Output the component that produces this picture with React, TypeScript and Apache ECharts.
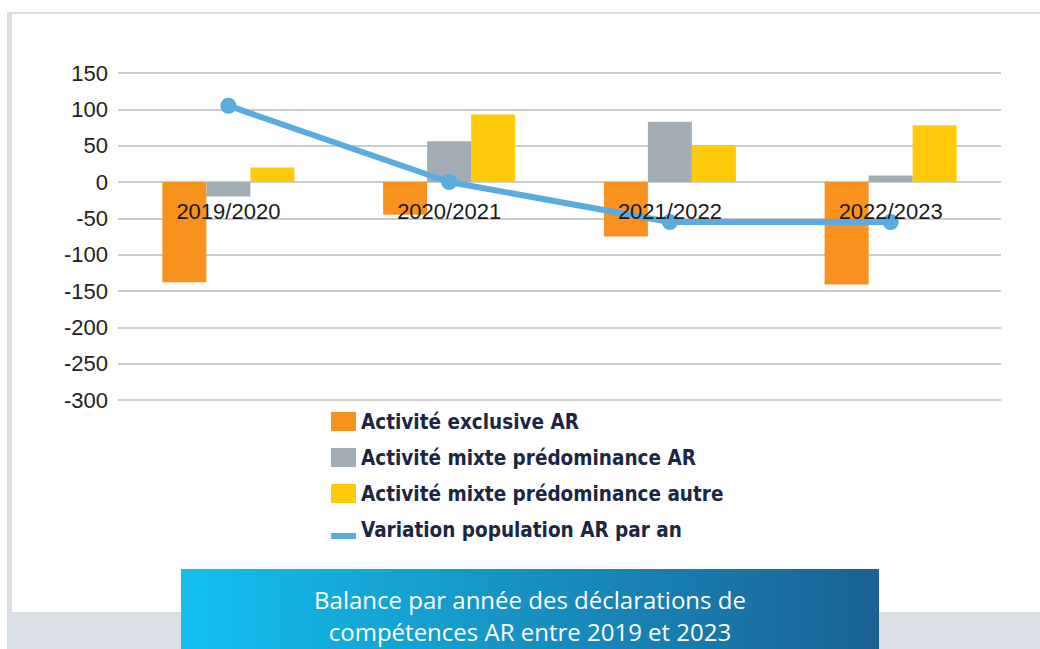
import React, { useEffect, useRef } from "react";
import * as echarts from "echarts";

const categories = ["2019/2020", "2020/2021", "2021/2022", "2022/2023"];
const exclusiveAR = [-138, -45, -75, -141];
const mixteAR = [-20, 56, 83, 9];
const mixteAutre = [20, 93, 51, 78];
const variation = [105, 0, -55, -55];

const seriesNames = [
  "Activité exclusive AR",
  "Activité mixte prédominance AR",
  "Activité mixte prédominance autre",
  "Variation population AR par an",
];
const yMin = -300;
const yMax = 150;
const yStep = 50;
const titleLines = [
  "Balance par année des déclarations de",
  "compétences AR entre 2019 et 2023",
];

const NARROW = "'Liberation Sans Narrow', 'DejaVu Sans Condensed', 'Liberation Sans', sans-serif";
const SANS = "'Liberation Sans', Arial, sans-serif";

const GRID_TOP = 73;
const GRID_BOTTOM_Y = 400;

export default function App() {
  const ref = useRef<HTMLDivElement>(null);
  useEffect(() => {
    document.body.style.margin = "0";
    const chart = echarts.init(ref.current!, null, { renderer: "svg" });
    const zeroY = GRID_TOP + ((yMax - 0) / (yMax - yMin)) * (GRID_BOTTOM_Y - GRID_TOP);
    chart.setOption({
      animation: false,
      backgroundColor: "#ffffff",
      grid: { left: 118, right: 39, top: GRID_TOP, bottom: 649 - GRID_BOTTOM_Y, containLabel: false },
      legend: {
        orient: "vertical",
        left: 331,
        top: 411,
        padding: 0,
        itemWidth: 25,
        itemHeight: 19,
        itemGap: 15,
        selectedMode: false,
        itemStyle: { borderWidth: 0 },
        textStyle: {
          fontFamily: NARROW,
          fontWeight: "bold",
          fontSize: 20.5,
          color: "#1b2742",
        },
        data: [
          { name: seriesNames[0], icon: "rect" },
          { name: seriesNames[1], icon: "rect" },
          { name: seriesNames[2], icon: "rect" },
          { name: seriesNames[3], icon: "path://M0,0L0,0M0,13L25,13L25,19L0,19Z" },
        ],
      },
      xAxis: {
        type: "category",
        data: categories,
        z: 10,
        position: "bottom",
        offset: -(GRID_BOTTOM_Y - zeroY),
        axisLine: { show: false, onZero: false },
        axisTick: { show: false },
        axisLabel: {
          margin: 18,
          fontFamily: SANS,
          fontSize: 22,
          color: "#1a1a1a",
        },
      },
      yAxis: {
        type: "value",
        min: yMin,
        max: yMax,
        interval: yStep,
        axisLine: { show: false },
        axisTick: { show: false },
        splitLine: { lineStyle: { color: "#cccccc", width: 2 } },
        axisLabel: {
          margin: 10,
          fontFamily: SANS,
          fontSize: 22,
          color: "#222222",
        },
      },
      series: [
        {
          name: seriesNames[0],
          type: "bar",
          data: exclusiveAR,
          barWidth: 44,
          barGap: "0%",
          itemStyle: { color: "#f7921e" },
        },
        {
          name: seriesNames[1],
          type: "bar",
          data: mixteAR,
          barWidth: 44,
          barGap: "0%",
          itemStyle: { color: "#a2adb3" },
        },
        {
          name: seriesNames[2],
          type: "bar",
          data: mixteAutre,
          barWidth: 44,
          barGap: "0%",
          itemStyle: { color: "#ffcb08" },
        },
        {
          name: seriesNames[3],
          type: "line",
          data: variation,
          z: 4,
          symbol: "circle",
          symbolSize: 16,
          lineStyle: { color: "#5aabe0", width: 6 },
          itemStyle: { color: "#5aabe0", borderWidth: 0 },
        },
      ],
      graphic: [
        { type: "rect", z: -10, silent: true, shape: { x: 7, y: 12, width: 1033, height: 637 }, style: { fill: "#dadfe5" } },
        { type: "rect", z: -9, silent: true, shape: { x: 12, y: 14, width: 1028, height: 598 }, style: { fill: "#ffffff" } },
        {
          type: "rect",
          z: 50,
          silent: true,
          shape: { x: 181, y: 569, width: 698, height: 80 },
          style: {
            fill: new echarts.graphic.LinearGradient(0, 0, 1, 0, [
              { offset: 0, color: "#13c0f0" },
              { offset: 1, color: "#1a6193" },
            ]),
          },
        },
        {
          type: "text",
          z: 51,
          silent: true,
          x: 530,
          y: 615,
          style: {
            text: titleLines.join("\n"),
            align: "center",
            verticalAlign: "middle",
            fontFamily: "'Open Sans', sans-serif",
            fontSize: 24,
            lineHeight: 32,
            fill: "#ffffff",
          },
        },
      ],
    });
    return () => chart.dispose();
  }, []);
  return <div ref={ref} style={{ width: 1040, height: 649 }} />;
}
